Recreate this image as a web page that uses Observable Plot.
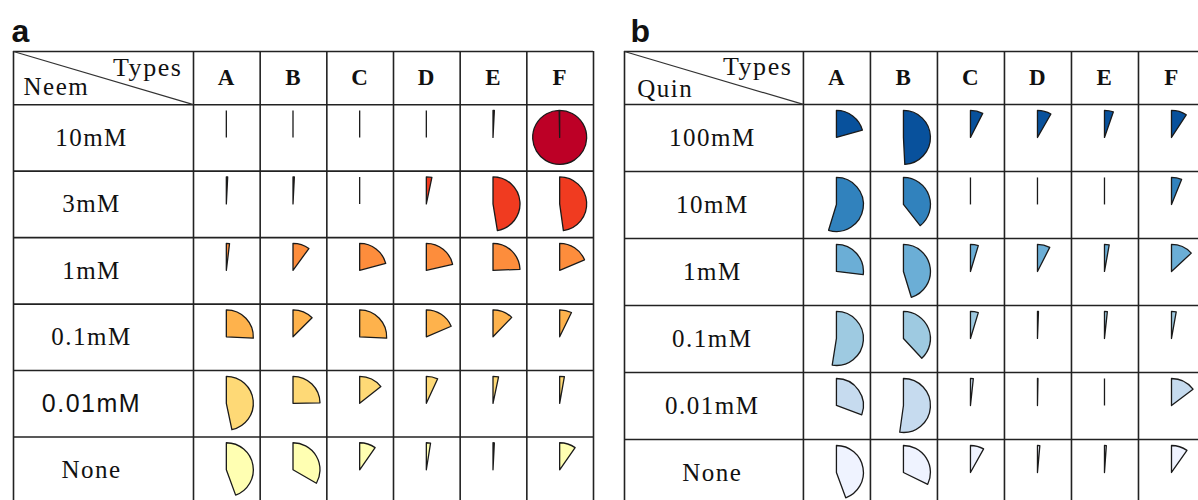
<!DOCTYPE html>
<html>
<head>
<meta charset="utf-8">
<script src="https://cdn.jsdelivr.net/npm/d3@7"></script>
<script src="https://cdn.jsdelivr.net/npm/@observablehq/plot@0.6"></script>
<style>
  html, body { margin: 0; padding: 0; background: #fff; overflow: hidden; }
  #chart { display: flex; width: 1198px; height: 500px; }
  #chart svg { display: block; flex: none; }
  #chart svg text { letter-spacing: 0.06em; }
</style>
</head>
<body>
<div id="chart"></div>
<script>
// ---- data ----
const types = ["A", "B", "C", "D", "E", "F"];

const neemRows = ["10mM", "3mM", "1mM", "0.1mM", "0.01mM", "None"];
// share of a full circle (%) per row, columns A..F
const neemValues = [
  [0, 0, 0, 0, 0.8, 99.7],
  [0.8, 0.8, 0, 3.3, 47.4, 47.8],
  [1.9, 10.0, 20.8, 21.4, 24.4, 18.6],
  [25.8, 12.5, 25.8, 18.6, 12.2, 7.2],
  [46.7, 24.7, 14.4, 6.9, 3.3, 2.8],
  [44.4, 33.3, 9.7, 2.5, 0.8, 9.7]
];
const neemColors = ["#bd0026", "#f03b20", "#fd8d3c", "#feb24c", "#fed976", "#ffffb2"];

const quinRows = ["100mM", "10mM", "1mM", "0.1mM", "0.01mM", "None"];
const quinValues = [
  [20.6, 49.2, 7.5, 8.3, 5.3, 9.2],
  [54.7, 39.4, 0, 0, 0, 6.1],
  [26.9, 45.3, 4.7, 7.5, 2.8, 13.1],
  [52.5, 38.1, 4.7, 0.6, 1.7, 2.8],
  [30.6, 52.2, 1.7, 0.3, 0, 14.7],
  [44.4, 32.2, 8.1, 1.4, 1.1, 9.7]
];
const quinColors = ["#08519c", "#3182bd", "#6baed6", "#9ecae1", "#c6dbef", "#eff3ff"];

// ---- drawing ----
const R = 27;
const LINE = "#222";
const SERIF = "'Liberation Serif', 'Times New Roman', serif";
const SANS = "'Liberation Sans', Arial, sans-serif";

function wedgePath(r, theta) {
  if (theta < 1e-4) return `M0,0L0,${-r}`;
  const x = r * Math.sin(theta), y = -r * Math.cos(theta);
  const large = theta > Math.PI ? 1 : 0;
  return `M0,0L0,${-r}A${r},${r} 0 ${large} 1 ${x},${y}Z`;
}

function panel(cfg) {
  const {letter, letterDx, rows, values, colors, rowName, width, labelW, headerH,
         xRange, yRange, labelX, typesY, nameDx, nameY, sansRows} = cfg;
  const cells = [];
  rows.forEach((row, i) => types.forEach((t, j) =>
    cells.push({row, type: t, i, j, value: values[i][j]})));
  const colEdges = d3.range(types.length + 1);
  const rowEdges = d3.range(rows.length + 1);
  const left = -labelW, top = -headerH, right = types.length, bottom = rows.length;

  return Plot.plot({
    width, height: 500, margin: 0,
    x: {domain: [left, right], range: xRange, axis: null},
    y: {domain: [top, bottom], range: yRange, axis: null},
    color: {domain: rows, range: colors},
    style: {background: "#fff", overflow: "visible"},
    marks: [
      // table grid
      Plot.ruleX(colEdges, {x: d => d, y1: top, y2: bottom, stroke: LINE, strokeWidth: 1.6}),
      Plot.ruleX([left], {x: d => d, y1: top, y2: bottom, stroke: LINE, strokeWidth: 1.6}),
      Plot.ruleY(rowEdges, {y: d => d, x1: left, x2: right, stroke: LINE, strokeWidth: 1.6}),
      Plot.ruleY([top], {y: d => d, x1: left, x2: right, stroke: LINE, strokeWidth: 1.6}),
      Plot.link([0], {x1: left, y1: top, x2: 0, y2: 0, stroke: "#333", strokeWidth: 1.2}),
      // header
      Plot.text(types, {x: (d, j) => j + 0.5, y: top / 2, text: d => d,
        fontFamily: SERIF, fontWeight: "bold", fontSize: 23, fill: "#111"}),
      Plot.text(["Types"], {x: 0, y: typesY, text: d => d, dx: -11, textAnchor: "end",
        fontFamily: SERIF, fontSize: 26, fill: "#111"}),
      Plot.text([rowName], {x: left, y: nameY, text: d => d, dx: nameDx, textAnchor: "start",
        fontFamily: SERIF, fontSize: 25, fill: "#111"}),
      // row labels
      Plot.text(rows, {filter: d => !sansRows.includes(d), x: labelX, y: (d, i) => i + 0.5,
        text: d => d, fontFamily: SERIF, fontSize: 25, fill: "#111"}),
      Plot.text(rows, {filter: d => sansRows.includes(d), x: labelX, y: (d, i) => i + 0.5,
        text: d => d, fontFamily: SANS, fontSize: 25, fill: "#111"}),
      // wedges
      Plot.dot(cells, {
        x: d => d.j + 0.5, y: d => d.i + 0.5, fill: "row",
        render: (index, scales, vals) => {
          const g = d3.create("svg:g");
          for (const k of index) {
            const theta = cells[k].value / 100 * 2 * Math.PI;
            g.append("path")
              .attr("d", wedgePath(R, theta))
              .attr("transform", `translate(${vals.x[k]},${vals.y[k]})`)
              .attr("fill", theta < 1e-4 ? "none" : vals.fill[k])
              .attr("stroke", "#1a1a1a")
              .attr("stroke-width", 1.3)
              .attr("stroke-linejoin", "round");
          }
          return g.node();
        }
      }),
      // panel letter
      Plot.text([letter], {frameAnchor: "top-left", dx: letterDx, dy: 41, text: d => d,
        textAnchor: "start", lineAnchor: "bottom",
        fontFamily: SANS, fontWeight: "bold", fontSize: 32, fill: "#111"})
    ]
  });
}

const chart = document.getElementById("chart");
chart.append(panel({
  letter: "a", letterDx: 11, rows: neemRows, values: neemValues, colors: neemColors,
  rowName: "Neem", width: 611, labelW: 2.7, headerH: 0.8,
  xRange: [13, 593], yRange: [51, 503], labelX: -1.53,
  typesY: -0.56, nameDx: 10, nameY: -0.26, sansRows: ["0.01mM"]
}));
chart.append(panel({
  letter: "b", letterDx: 19, rows: quinRows, values: quinValues, colors: quinColors,
  rowName: "Quin", width: 587, labelW: 2.67, headerH: 0.79,
  xRange: [13, 594], yRange: [51, 506], labelX: -1.36,
  typesY: -0.57, nameDx: 12.7, nameY: -0.23, sansRows: []
}));
</script>
</body>
</html>
